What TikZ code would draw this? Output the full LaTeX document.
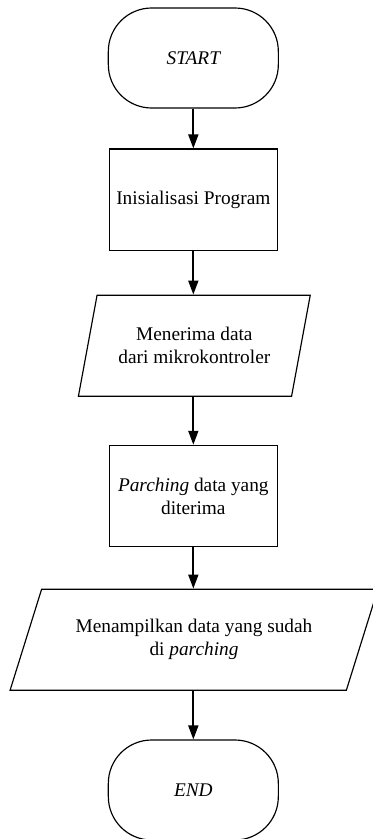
\documentclass[tikz,border=0pt]{standalone}
\usepackage{fontspec}
\setmainfont{Liberation Serif}
\usetikzlibrary{arrows.meta,positioning,shapes.geometric}

\begin{document}
\begin{tikzpicture}[
  termbox/.style={draw,line width=1pt,rounded corners=1.3cm,minimum width=5.1cm,
    minimum height=3cm,font=\fontsize{16.5}{19.5}\selectfont\itshape,align=center},
  procbox/.style={draw,line width=1pt,minimum width=5.04cm,minimum height=3.04cm,
    font=\fontsize{16.5}{19.5}\selectfont,align=center,inner sep=2pt},
  iobox/.style={draw,line width=1pt,trapezium,trapezium stretches=true,
    minimum height=3.03cm,font=\fontsize{16.5}{19.5}\selectfont,align=center},
  arr/.style={-{Triangle[length=0.42cm,width=0.3cm]},line width=1.5pt}
]
  \useasboundingbox (0,0) rectangle (11.16,-25.17);

  % Start
  \node[termbox] (start) at (5.8,-1.74) {START};

  % Inisialisasi
  \node[procbox] (init) at (5.8,-5.99) {Inisialisasi Program};

  % Terima data
  \node[iobox,minimum width=6.96cm,trapezium left angle=70.9,
    trapezium right angle=109.1] (terima) at (5.83,-10.37)
    {Menerima data\\dari mikrokontroler};

  % Parching
  \node[procbox] (parsing) at (5.8,-14.88) {\textit{Parching} data yang\\diterima};

  % Tampilkan data
  \node[iobox,minimum width=11.04cm,trapezium left angle=62.3,
    trapezium right angle=117.7] (tampil) at (5.82,-19.19)
    {Menampilkan data yang sudah\\di \textit{parching}};

  % End
  \node[termbox] (end) at (5.8,-23.7) {END};

  % Arrows
  \draw[arr] (start) -- (init);
  \draw[arr] (init) -- (init |- terima.north);
  \draw[arr] (init |- terima.south) -- (parsing);
  \draw[arr] (parsing) -- (parsing |- tampil.north);
  \draw[arr] (parsing |- tampil.south) -- (end);
\end{tikzpicture}
\end{document}
